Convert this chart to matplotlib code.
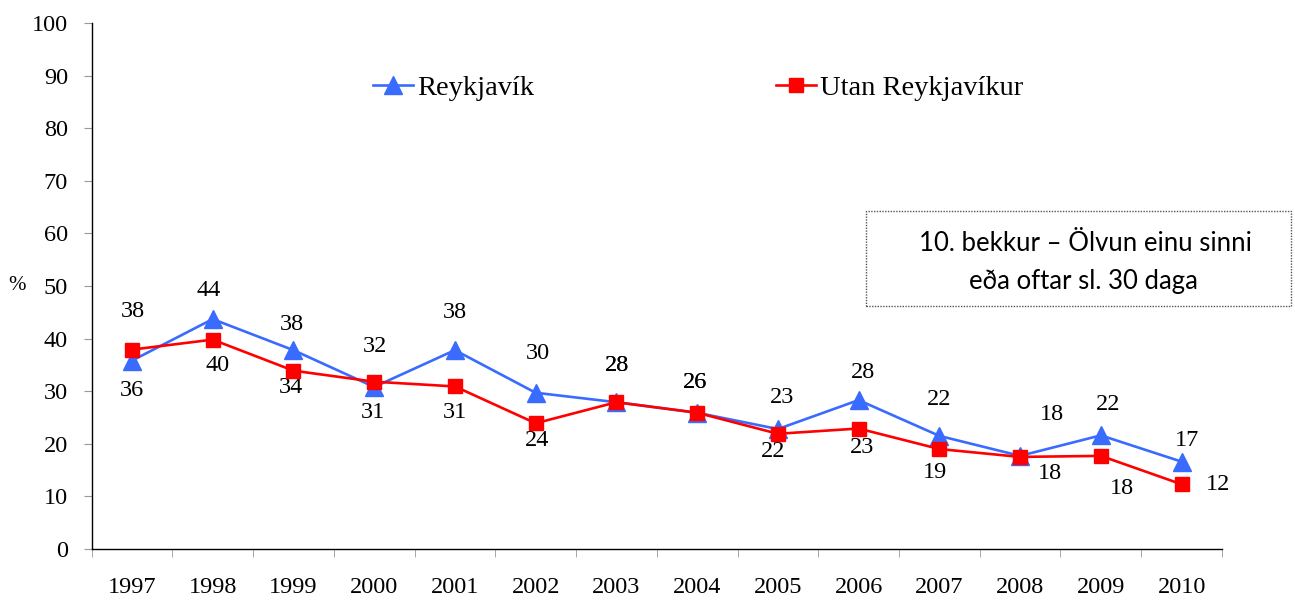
import matplotlib
matplotlib.use("Agg")
import matplotlib.pyplot as plt
import numpy as np

years = ["1997", "1998", "1999", "2000", "2001", "2002", "2003",
         "2004", "2005", "2006", "2007", "2008", "2009", "2010"]
reykjavik = [35.8, 43.7, 37.8, 30.8, 37.8, 29.7, 27.9, 25.9, 22.8, 28.3, 21.5, 17.7, 21.6, 16.6]
utan = [37.9, 39.8, 33.9, 31.8, 30.9, 23.9, 27.9, 25.9, 21.9, 22.9, 19.0, 17.5, 17.7, 12.3]
reyk_labels = [36, 44, 38, 31, 38, 30, 28, 26, 23, 28, 22, 18, 22, 17]
utan_labels = [38, 40, 34, 32, 31, 24, 28, 26, 22, 23, 19, 18, 18, 12]

# label offsets in pixels (dx, dy up)
reyk_off = [(0, -30), (-4, 29), (-2, 26), (-1, -26), (0, 38), (2, 39), (1, 37),
            (-2, 30), (4, 32), (4, 28), (0, 36), (32, 41), (7, 31), (5, 21)]
utan_off = [(1, 38), (5, -26), (-2, -17), (1, 35), (0, -26), (1, -17), (1, 37),
            (-2, 30), (-5, -18), (3, -19), (-4, -23), (30, -17), (21, -33), (36, 0)]

serif = "Liberation Serif"
fig = plt.figure(figsize=(12.95, 6.03), dpi=100)
ax = fig.add_axes([0.0707, 0.0896, 0.9436 - 0.0707, 0.9619 - 0.0896])

x = np.arange(len(years))
blue = "#3A6BFF"
red = "#FF0000"
ax.plot(x, reykjavik, color=blue, lw=1.9, marker="^", ms=13, mec=blue, mfc=blue,
        label="Reykjavík", zorder=3)
ax.plot(x, utan, color=red, lw=1.9, marker="s", ms=10, mec=red, mfc=red,
        label="Utan Reykjavíkur", zorder=4)

for xi, v, lab, (dx, dy) in zip(x, reykjavik, reyk_labels, reyk_off):
    ax.annotate(str(lab), (xi, v), xytext=(dx, dy), textcoords="offset pixels",
                ha="center", va="center", fontsize=17.5, family=serif)
for xi, v, lab, (dx, dy) in zip(x, utan, utan_labels, utan_off):
    ax.annotate(str(lab), (xi, v), xytext=(dx, dy), textcoords="offset pixels",
                ha="center", va="center", fontsize=17.5, family=serif)

ax.set_xlim(-0.5, len(years) - 0.5)
ax.set_ylim(0, 100)
ax.set_yticks(np.arange(0, 101, 10))
ax.set_xticks(x)
ax.set_xticklabels(years)
ax.set_xticks(np.arange(-0.5, len(years)), minor=True)
ax.tick_params(axis="x", which="major", length=0, pad=20)
ax.tick_params(axis="x", which="minor", length=6, color="#999999", direction="out")
ax.tick_params(axis="y", which="major", length=6, color="#999999", pad=11)
for lab in ax.get_xticklabels() + ax.get_yticklabels():
    lab.set_fontfamily(serif)
    lab.set_fontsize(17.5)

for s in ["top", "right"]:
    ax.spines[s].set_visible(False)
for s in ["left", "bottom"]:
    ax.spines[s].set_color("black")
    ax.spines[s].set_linewidth(1.0)

fig.text(17 / 1295, 1 - 285 / 603, "%", fontsize=15, family=serif, ha="center", va="center")

leg = ax.legend(loc="center left", bbox_to_anchor=((373 - 91.5) / 1130.5, (549 - 88) / 526),
                ncol=2, frameon=False, prop={"family": serif, "size": 20.5},
                handlelength=1.4, handletextpad=0.15, columnspacing=8.5, borderpad=0,
                borderaxespad=0)

# text box
bx0, bx1, by0, by1 = 866, 1291, 211, 306
fig.patches.append(plt.Rectangle((bx0 / 1295, 1 - by1 / 603), (bx1 - bx0) / 1295,
                                 (by1 - by0) / 603, transform=fig.transFigure,
                                 fill=False, ec="#555555", lw=1.0, ls=(0, (1, 1))))
fig.text(1085 / 1295, 1 - 243 / 603, "10. bekkur – Ölvun einu sinni",
         fontsize=18.5, family="Lato", ha="center", va="center")
fig.text(1083 / 1295, 1 - 281 / 603, "eða oftar sl. 30 daga",
         fontsize=18.5, family="Lato", ha="center", va="center")

fig.savefig("out.png", dpi=100)
